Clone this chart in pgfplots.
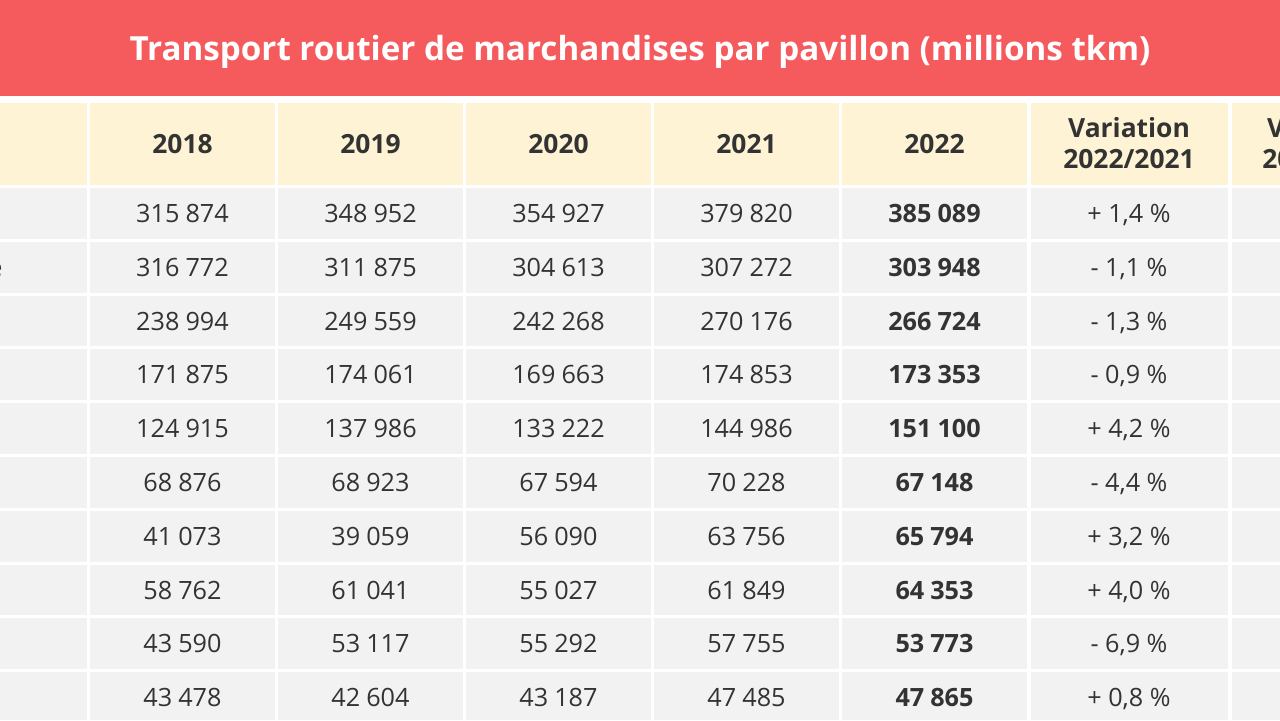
\documentclass[border=0pt]{standalone}
\usepackage{pgfplots}
\pgfplotsset{compat=1.18}
\usepackage{pgfplotstable}
\usepackage{fontspec}
\setmainfont{Open Sans}
\definecolor{titlered}{RGB}{245,90,93}
\definecolor{cream}{RGB}{254,244,213}
\definecolor{cellgray}{RGB}{242,242,242}
\definecolor{txt}{RGB}{51,51,51}

\pgfplotstableread[col sep=semicolon]{
r;y2018;y2019;y2020;y2021;y2022;var
0;315874;348952;354927;379820;385089;+ 1,4 \%
1;316772;311875;304613;307272;303948;- 1,1 \%
2;238994;249559;242268;270176;266724;- 1,3 \%
3;171875;174061;169663;174853;173353;- 0,9 \%
4;124915;137986;133222;144986;151100;+ 4,2 \%
5;68876;68923;67594;70228;67148;- 4,4 \%
6;41073;39059;56090;63756;65794;+ 3,2 \%
7;58762;61041;55027;61849;64353;+ 4,0 \%
8;43590;53117;55292;57755;53773;- 6,9 \%
9;43478;42604;43187;47485;47865;+ 0,8 \%
}\data

\pgfplotsset{
  cellnum/.style={draw=none, nodes near coords, point meta=explicit,
    every node near coord/.append style={anchor=base, inner sep=0pt, text=txt,
      font=\fontsize{12.6}{15}\selectfont}},
  cellbold/.style={draw=none, nodes near coords, point meta=explicit,
    every node near coord/.append style={anchor=base, inner sep=0pt, text=txt,
      font=\bfseries\fontsize{12.6}{15}\selectfont}},
  cellsym/.style={draw=none, nodes near coords, point meta=explicit symbolic,
    every node near coord/.append style={anchor=base, inner sep=0pt, text=txt,
      font=\fontsize{12.6}{15}\selectfont}},
}
\tikzset{hdr/.style={anchor=base, text=txt, inner sep=0pt, font=\bfseries\fontsize{13.2}{16}\selectfont}}

\begin{document}
\begin{tikzpicture}
\path[use as bounding box, clip] (0,0) rectangle (640pt,360pt);
\begin{axis}[at={(0,0)}, anchor=south west,
  width=640pt, height=360pt, scale only axis,
  xmin=0, xmax=1280, ymin=0, ymax=720, y dir=reverse,
  hide axis, clip=false,
  /pgf/number format/fixed,
  /pgf/number format/precision=0,
  /pgf/number format/1000 sep={\hspace{0.24em}},
  /pgf/number format/assume math mode=true]
% backgrounds
\fill[titlered] (axis cs:0,0) rectangle (axis cs:1280,96);
\fill[cream] (axis cs:0,103) rectangle (axis cs:1280,186);
\fill[cellgray] (axis cs:0,186) rectangle (axis cs:1280,720);
% white grid lines
\draw[white, line width=1.75pt] (axis cs:88.5,103) -- (axis cs:88.5,720);
\draw[white, line width=1.75pt] (axis cs:276.5,103) -- (axis cs:276.5,720);
\draw[white, line width=1.75pt] (axis cs:464.5,103) -- (axis cs:464.5,720);
\draw[white, line width=1.75pt] (axis cs:652.5,103) -- (axis cs:652.5,720);
\draw[white, line width=1.75pt] (axis cs:840.5,103) -- (axis cs:840.5,720);
\draw[white, line width=1.75pt] (axis cs:1029,103) -- (axis cs:1029,720);
\draw[white, line width=1.75pt] (axis cs:1230,103) -- (axis cs:1230,720);
\draw[white, line width=1.5pt] (axis cs:0,186.5) -- (axis cs:1280,186.5);
\draw[white, line width=1.5pt] (axis cs:0,240.3) -- (axis cs:1280,240.3);
\draw[white, line width=1.5pt] (axis cs:0,294.1) -- (axis cs:1280,294.1);
\draw[white, line width=1.5pt] (axis cs:0,347.9) -- (axis cs:1280,347.9);
\draw[white, line width=1.5pt] (axis cs:0,401.7) -- (axis cs:1280,401.7);
\draw[white, line width=1.5pt] (axis cs:0,455.5) -- (axis cs:1280,455.5);
\draw[white, line width=1.5pt] (axis cs:0,509.3) -- (axis cs:1280,509.3);
\draw[white, line width=1.5pt] (axis cs:0,563.1) -- (axis cs:1280,563.1);
\draw[white, line width=1.5pt] (axis cs:0,616.9) -- (axis cs:1280,616.9);
\draw[white, line width=1.5pt] (axis cs:0,670.7) -- (axis cs:1280,670.7);
% title
\node[anchor=base, text=white, inner sep=0pt, font=\bfseries\fontsize{16.6}{20}\selectfont]
  at (axis cs:640,60) {Transport routier de marchandises par pavillon (millions tkm)};
% header
\node[hdr] at (axis cs:182.5,153) {2018};
\node[hdr] at (axis cs:370.5,153) {2019};
\node[hdr] at (axis cs:558.5,153) {2020};
\node[hdr] at (axis cs:746.5,153) {2021};
\node[hdr] at (axis cs:934.5,153) {2022};
\node[hdr] at (axis cs:1129,137) {Variation};
\node[hdr] at (axis cs:1129,168) {2022/2021};
\node[hdr] at (axis cs:1328,137) {Variation};
\node[hdr] at (axis cs:1328,168) {2022/2018};
% first column (cut off by the picture edge, as in the reference)
\node[anchor=base east, text=txt, inner sep=0pt, font=\fontsize{12.6}{15}\selectfont] at (axis cs:3,276.3) {Allemagne};
% values
\addplot[cellnum] table[x expr=182.5, y expr=222.5+53.8*\thisrow{r}, meta=y2018] {\data};
\addplot[cellnum] table[x expr=370.5, y expr=222.5+53.8*\thisrow{r}, meta=y2019] {\data};
\addplot[cellnum] table[x expr=558.5, y expr=222.5+53.8*\thisrow{r}, meta=y2020] {\data};
\addplot[cellnum] table[x expr=746.5, y expr=222.5+53.8*\thisrow{r}, meta=y2021] {\data};
\addplot[cellbold] table[x expr=934.5, y expr=222.5+53.8*\thisrow{r}, meta=y2022] {\data};
\addplot[cellsym] table[x expr=1129, y expr=222.5+53.8*\thisrow{r}, meta=var] {\data};
\end{axis}
\end{tikzpicture}
\end{document}
